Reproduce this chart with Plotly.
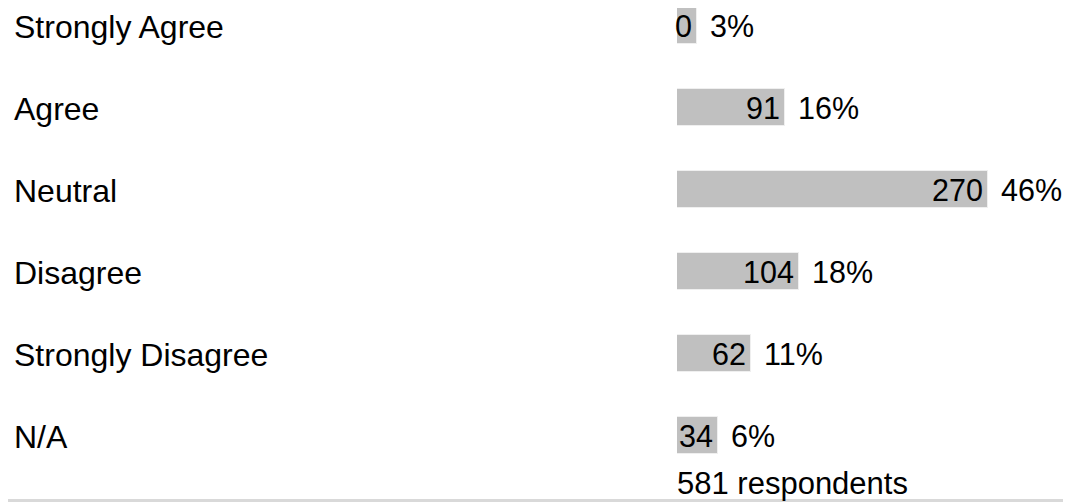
import plotly.graph_objects as go

categories = ["Strongly Agree", "Agree", "Neutral", "Disagree", "Strongly Disagree", "N/A"]
counts = [0, 91, 270, 104, 62, 34]
percents = [3, 16, 46, 18, 11, 6]
total_label = "581 respondents"

FONT = "Liberation Sans, Arial, sans-serif"
FS = 30.5
FS_LABEL = 32
FS_TOTAL = 31
OFF = 8  # page body margin
W, H = 1071 - OFF, 502 - OFF
ML, MR, MT, MB = 677 - OFF, 0, 0, 40
plot_w = W - ML - MR
plot_h = H - MT - MB
px_per_pct = 6.76
row_px = 82.0
first_row_px = 25.5 - OFF

fig = go.Figure()
fig.add_trace(go.Bar(
    x=percents,
    y=categories,
    orientation="h",
    width=37 / row_px,
    marker=dict(color="#C0C0C0", line=dict(color="#EFEFEF", width=1)),
    hoverinfo="skip",
    showlegend=False,
))

annotations = []
for cat, c, p in zip(categories, counts, percents):
    annotations.append(dict(x=p, y=cat, xref="x", yref="y", text=str(c),
                            showarrow=False, xanchor="right", xshift=-3,
                            font=dict(family=FONT, size=FS, color="#000")))
    annotations.append(dict(x=p, y=cat, xref="x", yref="y", text=f"{p}%",
                            showarrow=False, xanchor="left", xshift=11,
                            font=dict(family=FONT, size=FS, color="#000")))
    annotations.append(dict(x=(14 - OFF - 2 - ML) / plot_w, y=cat, xref="paper", yref="y", text=cat,
                            showarrow=False, xanchor="left", yshift=-1,
                            font=dict(family=FONT, size=FS_LABEL, color="#000")))

annotations.append(dict(x=0, y=(plot_h - (483 - OFF - MT)) / plot_h, xref="x", yref="paper",
                        text=total_label, showarrow=False, xanchor="left", yanchor="middle",
                        xshift=-2,
                        font=dict(family=FONT, size=FS_TOTAL, color="#000")))

y_top = -first_row_px / row_px
y_bot = (plot_h - first_row_px) / row_px
line_y = (plot_h - (500.5 - OFF)) / plot_h

fig.update_layout(
    width=W, height=H,
    margin=dict(l=ML, r=MR, t=MT, b=MB),
    paper_bgcolor="white", plot_bgcolor="white",
    xaxis=dict(range=[0, plot_w / px_per_pct], visible=False, fixedrange=True),
    yaxis=dict(range=[y_bot, y_top], visible=False, fixedrange=True,
               categoryorder="array", categoryarray=categories),
    annotations=annotations,
    shapes=[dict(type="line", xref="paper", yref="paper",
                 x0=-ML / plot_w, x1=1, y0=line_y, y1=line_y,
                 line=dict(color="#D9D9D9", width=3))],
    bargap=0,
)

fig.write_html("out.html", config={"displayModeBar": False})
